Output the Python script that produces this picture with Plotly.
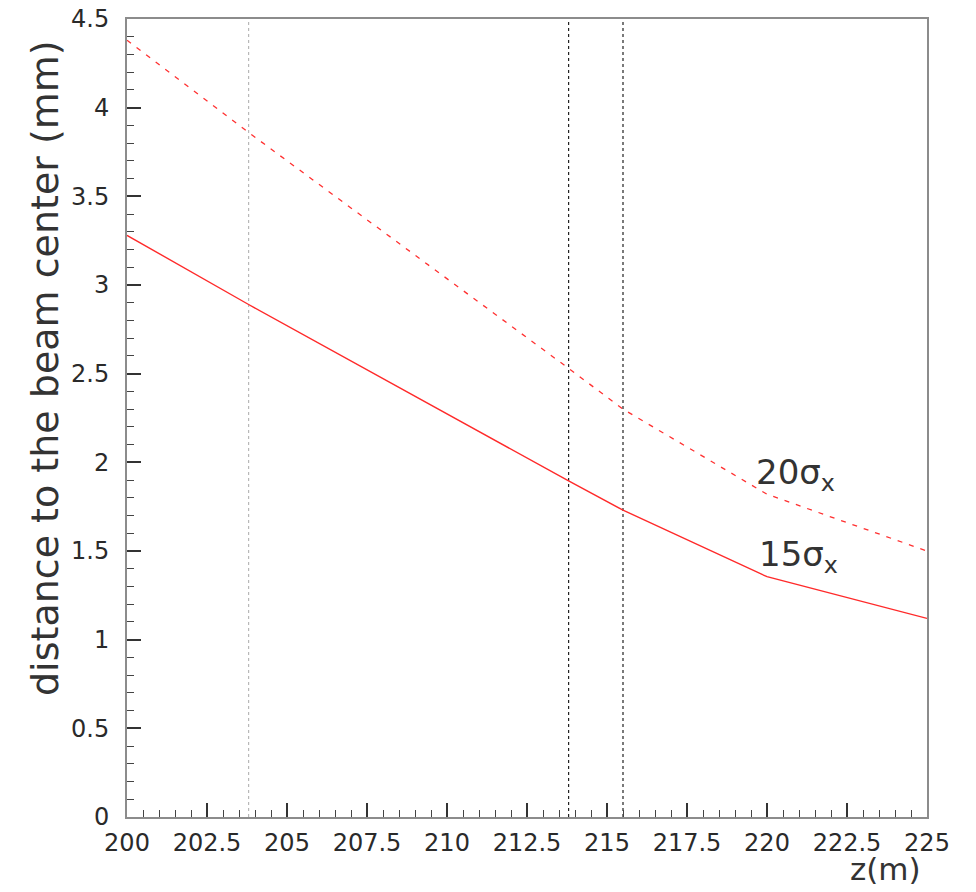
import plotly.graph_objects as go

# Beam-envelope distances along z
z_nodes = [200.0, 203.8, 213.8, 215.5, 220.0, 225.0]
dist_15sigma = [3.28, 2.89, 1.895, 1.73, 1.355, 1.12]
dist_20sigma = [4.38, 3.86, 2.53, 2.30, 1.82, 1.50]

# Detector station positions (z, m)
station_z = [203.8, 213.8, 215.5]
station_colors = ["#b8b8b8", "#222222", "#222222"]

curve_labels = ["20σ<sub>x</sub>", "15σ<sub>x</sub>"]
label_pos = [(219.6, 1.93), (219.7, 1.47)]

x_range = [200, 225]
y_range = [0, 4.5]

W, H = 976, 892
L, R, T, B = 127, 49, 19, 75

fig = go.Figure()

for zs, col in zip(station_z, station_colors):
    fig.add_trace(go.Scatter(
        x=[zs, zs], y=y_range, mode="lines",
        line=dict(color=col, width=1.2, dash="dot"),
        hoverinfo="skip", showlegend=False))

fig.add_trace(go.Scatter(
    x=z_nodes, y=dist_20sigma, mode="lines",
    line=dict(color="#ff3030", width=1.3, dash="5px,7px"),
    name="20 sigma", showlegend=False))

fig.add_trace(go.Scatter(
    x=z_nodes, y=dist_15sigma, mode="lines",
    line=dict(color="#ff2a2a", width=1.4),
    name="15 sigma", showlegend=False))

font_family = "DejaVu Sans"

for txt, (lx, ly) in zip(curve_labels, label_pos):
    fig.add_annotation(
        x=lx, y=ly, xref="x", yref="y", text=txt, showarrow=False,
        xanchor="left", yanchor="middle",
        font=dict(family=font_family, size=34, color="#333333"))

# Axis titles placed at the far end of each axis
fig.add_annotation(
    xref="paper", yref="paper", x=(45 - L) / (W - L - R), y=(H - B - 368) / (H - T - B),
    text="distance to the beam center (mm)", textangle=-90, showarrow=False,
    xanchor="center", yanchor="middle",
    font=dict(family=font_family, size=38, color="#333333"))

fig.add_annotation(
    xref="paper", yref="paper", x=(923 - L) / (W - L - R), y=-(869 - (H - B)) / (H - T - B),
    text="z(m)", showarrow=False, xanchor="right", yanchor="middle",
    font=dict(family=font_family, size=31, color="#333333"))

axis_common = dict(
    showgrid=False, zeroline=False, showline=True, linecolor="#8c8c8c",
    linewidth=2, mirror=True, ticks="inside", ticklen=14, tickwidth=1.5,
    tickcolor="#333333", automargin=False, tickangle=0,
    tickfont=dict(family=font_family, size=24, color="#2a2a2a"),
)

fig.update_xaxes(
    range=x_range, tick0=200, dtick=2.5,
    minor=dict(ticks="inside", ticklen=7, tickwidth=1.2, tickcolor="#444444", dtick=0.5, showgrid=False),
    ticklabelstandoff=3,
    **axis_common)

fig.update_yaxes(
    range=y_range, tick0=0, dtick=0.5,
    minor=dict(ticks="inside", ticklen=7, tickwidth=1.2, tickcolor="#444444", dtick=0.1, showgrid=False),
    ticklabelstandoff=11,
    **axis_common)

fig.update_layout(
    width=W, height=H,
    margin=dict(l=L, r=R, t=T, b=B),
    paper_bgcolor="white", plot_bgcolor="white",
    showlegend=False,
)

fig.write_html("out.html")
